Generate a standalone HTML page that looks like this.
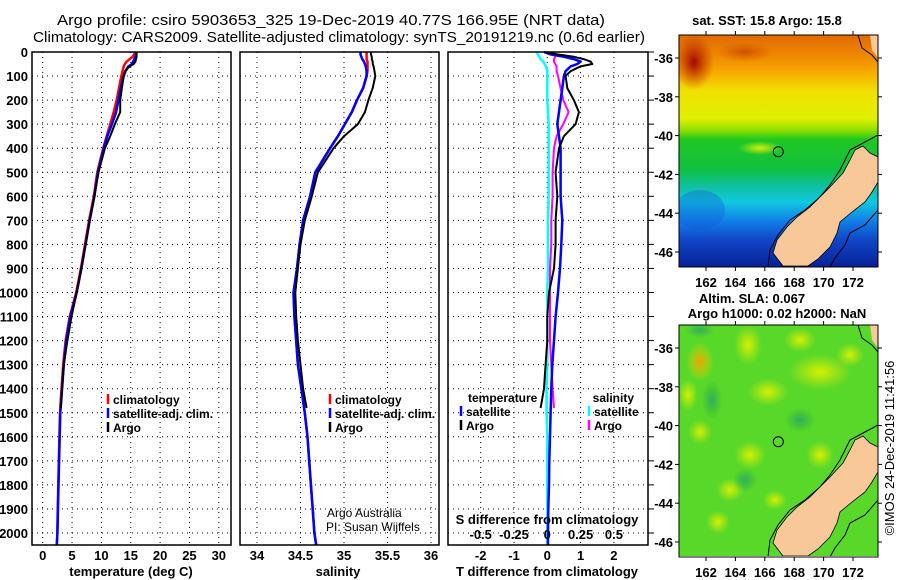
<!DOCTYPE html>
<html><head><meta charset="utf-8"><style>
html,body{margin:0;padding:0;background:#fff;width:900px;height:580px;overflow:hidden}
svg{display:block;font-family:"Liberation Sans",sans-serif}
.b{font-weight:bold}
</style></head><body>
<svg id="chart" width="900" height="580" viewBox="0 0 900 580" xmlns="http://www.w3.org/2000/svg">
<defs>
<linearGradient id="sstGrad" x1="0" y1="0" x2="0" y2="1">
<stop offset="0" stop-color="#e06a00"/><stop offset="0.1" stop-color="#f08c00"/>
<stop offset="0.17" stop-color="#f8b000"/><stop offset="0.24" stop-color="#f0e000"/>
<stop offset="0.36" stop-color="#e0f000"/><stop offset="0.41" stop-color="#90e000"/>
<stop offset="0.45" stop-color="#20c820"/><stop offset="0.58" stop-color="#10c040"/>
<stop offset="0.65" stop-color="#10c0a0"/><stop offset="0.72" stop-color="#10c8e0"/>
<stop offset="0.8" stop-color="#1080e8"/><stop offset="0.88" stop-color="#1048c8"/>
<stop offset="1" stop-color="#082098"/></linearGradient>
<radialGradient id="hot" cx="0.5" cy="0.5" r="0.5"><stop offset="0" stop-color="#a00800"/><stop offset="1" stop-color="#c02000" stop-opacity="0"/></radialGradient>
<radialGradient id="yel" cx="0.5" cy="0.5" r="0.5"><stop offset="0" stop-color="#d8f000"/><stop offset="1" stop-color="#c8ec10" stop-opacity="0"/></radialGradient>
<radialGradient id="org" cx="0.5" cy="0.5" r="0.5"><stop offset="0" stop-color="#f0a000"/><stop offset="1" stop-color="#e0e000" stop-opacity="0"/></radialGradient>
<radialGradient id="dg" cx="0.5" cy="0.5" r="0.5"><stop offset="0" stop-color="#30b060"/><stop offset="1" stop-color="#30b040" stop-opacity="0"/></radialGradient>
<clipPath id="m1clip"><rect x="679" y="35" width="199" height="232"/></clipPath>
<clipPath id="m2clip"><rect x="679" y="325" width="199" height="231"/></clipPath>
</defs>
<g id="root"></g>
</svg>
<script>
// depth levels (m)
const depths = [0,10,20,30,40,50,60,80,100,150,200,250,300,350,400,500,600,700,800,900,1000,1100,1200,1300,1400,1500,1600,1700,1800,1900,2000,2050];
const argoDepths = [0,10,20,30,40,50,60,80,100,150,200,250,300,350,400,500,600,700,800,900,1000,1100,1200,1300,1400,1480];
// temperature (deg C)
const tempClim = [15.7,15.6,15.3,14.8,14.3,14.0,13.8,13.6,13.4,13.0,12.6,12.1,11.5,10.9,10.3,9.3,8.7,7.9,7.2,6.5,5.7,4.6,3.9,3.5,3.2,2.95,2.85,2.75,2.65,2.55,2.5,2.4];
const tempSat = [15.9,15.9,15.8,15.6,15.4,15.2,14.6,14.1,13.8,13.3,12.9,12.5,11.8,11.0,10.4,9.4,8.8,8.0,7.3,6.6,5.8,4.7,4.0,3.6,3.3,3.0,2.9,2.8,2.7,2.6,2.5,2.4];
const tempArgo = [16.0,16.0,16.0,15.9,15.8,15.5,14.8,14.0,13.8,13.5,13.2,13.2,12.3,11.5,10.6,9.5,8.8,8.0,7.3,6.6,5.8,4.9,4.2,3.6,3.3,3.1];
// salinity
const salClim = [35.26,35.26,35.26,35.26,35.27,35.27,35.27,35.27,35.26,35.22,35.15,35.09,35.01,34.93,34.84,34.67,34.61,34.53,34.49,34.46,34.42,34.43,34.45,34.47,34.51,34.55,34.58,34.60,34.62,34.64,34.66,34.68];
const salSat = [35.19,35.19,35.2,35.21,35.23,35.24,35.25,35.26,35.26,35.22,35.15,35.09,35.01,34.93,34.84,34.67,34.61,34.53,34.49,34.46,34.42,34.43,34.45,34.47,34.51,34.55,34.58,34.60,34.62,34.64,34.66,34.68];
const salArgo = [35.31,35.31,35.32,35.32,35.33,35.33,35.34,35.35,35.36,35.33,35.28,35.24,35.16,35.0,34.88,34.70,34.63,34.55,34.50,34.47,34.44,34.45,34.47,34.50,34.53,34.57];
// differences from climatology
const tDiffSat = [-0.1,0.1,0.5,0.8,1.0,0.9,0.7,0.55,0.5,0.45,0.4,0.35,0.3,0.35,0.4,0.4,0.4,0.45,0.42,0.38,0.32,0.25,0.2,0.15,0.12,0.1,0.08,0.06,0.05,0.03,0.02,0.02];
const tDiffArgo = [-0.1,0.3,0.8,1.1,1.3,1.35,1.0,0.7,0.55,0.6,0.8,0.95,0.85,0.5,0.35,0.25,0.3,0.25,0.25,0.2,0.05,0.0,0.0,-0.05,-0.1,-0.2];
const sDiffSat = [-0.08,-0.07,-0.06,-0.05,-0.03,-0.02,-0.01,0,0,0,0,0.005,0.01,0.01,0.01,0.01,0.01,0.005,0.005,0.005,0,0,0,0,-0.005,-0.005,0,0,0,0,0,0];
const sDiffArgo = [0.05,0.06,0.06,0.05,0.05,0.06,0.07,0.07,0.08,0.1,0.12,0.16,0.12,0.07,0.05,0.04,0.04,0.03,0.03,0.02,0.02,0.02,0.02,0.03,0.04,0.05];
// tick labels
const depthTicks = [0,100,200,300,400,500,600,700,800,900,1000,1100,1200,1300,1400,1500,1600,1700,1800,1900,2000];
const tempTicks = [0,5,10,15,20,25,30];
const salTicks = [34,34.5,35,35.5,36];
const tDiffTicks = [-2,-1,0,1,2];
const sDiffTicks = [-0.5,-0.25,0,0.25,0.5];
const lonTicks = [162,164,166,168,170,172];
const latTicks = [-36,-38,-40,-42,-44,-46];

const NS='http://www.w3.org/2000/svg';
const root=document.getElementById('root');
function el(tag,attrs,parent){const e=document.createElementNS(NS,tag);for(const k in attrs)e.setAttribute(k,attrs[k]);(parent||root).appendChild(e);return e;}
function txt(s,attrs,parent){const e=el('text',attrs,parent);e.textContent=s;return e;}

const TOP=52, BOT=545;
const yD=d=>TOP+d*0.2405;
const xT=t=>42.7+t*5.87;
const xS=s=>257+(s-34)*87;
const xTd=t=>547.3+t*33.3;
const xSd=s=>547.3+s*133.2;

// titles
const t1=txt('Argo profile: csiro 5903653_325 19-Dec-2019 40.77S 166.95E (NRT data)',{x:57,y:25,'font-size':15,textLength:548,lengthAdjust:'spacingAndGlyphs'});

const t2=txt('Climatology: CARS2009. Satellite-adjusted climatology: synTS_20191219.nc (0.6d earlier)',{x:33,y:42,'font-size':15,textLength:612,lengthAdjust:'spacingAndGlyphs'});


function panel(name,x0,x1,vticks,xf){
  const g=el('g',{});
  
  
  vticks.forEach(v=>{const x=xf(v);if(x>x0+1&&x<x1-1)el('line',{x1:x,x2:x,y1:TOP,y2:BOT,stroke:'#000','stroke-width':1,'stroke-dasharray':'1 4'},g);});
  depthTicks.forEach(d=>{const y=yD(d);if(y>TOP+1)el('line',{x1:x0,x2:x1,y1:y,y2:y,stroke:'#000','stroke-width':1,'stroke-dasharray':'1 4'},g);});
  return g;
}
function line(g,xs,ds,xf,color,w,name){
  const p=xs.map((v,i)=>xf(v).toFixed(1)+','+yD(ds[i]).toFixed(1)).join(' ');
  const e=el('polyline',{points:p,fill:'none',stroke:color,'stroke-width':w,'stroke-linejoin':'round'},g);
  
  
}
function frame(g,x0,x1){el('rect',{x:x0,y:TOP,width:x1-x0,height:BOT-TOP,fill:'none',stroke:'#000','stroke-width':1.5},g);}

// depth axis labels
const ya=el('g',{});
depthTicks.forEach(d=>{txt(String(d),{x:28,y:yD(d)+5,'font-size':13,'text-anchor':'end',class:'b'},ya);});

// panel 1 temperature
const p1=panel('temperature-panel',32,231,tempTicks,xT);
line(p1,tempClim,depths,xT,'#ff0000',2.5,'temp-climatology-line');
line(p1,tempSat,depths,xT,'#0000ff',2.5,'temp-satellite-line');
line(p1,tempArgo,argoDepths,xT,'#000',2,'temp-argo-line');
frame(p1,32,231);
tempTicks.forEach(v=>txt(String(v),{x:xT(v),y:560,'font-size':13,'text-anchor':'middle',class:'b'},p1));
txt('temperature (deg C)',{x:131,y:576,'font-size':13,'text-anchor':'middle',class:'b'},p1);

// panel 2 salinity
const p2=panel('salinity-panel',240,439,salTicks,xS);
line(p2,salClim,depths,xS,'#ff0000',2.5,'sal-climatology-line');
line(p2,salSat,depths,xS,'#0000ff',2.5,'sal-satellite-line');
line(p2,salArgo,argoDepths,xS,'#000',2,'sal-argo-line');
frame(p2,240,439);
salTicks.forEach(v=>txt(String(v),{x:xS(v),y:560,'font-size':13,'text-anchor':'middle',class:'b'},p2));
txt('salinity',{x:338,y:576,'font-size':13,'text-anchor':'middle',class:'b'},p2);
txt('Argo Australia',{x:327,y:517,'font-size':12},p2);
txt('PI: Susan Wijffels',{x:326,y:531,'font-size':12},p2);

// legends
function legend(g,x,y,items){
  items.forEach((it,i)=>{
    const lg=el('g',{},g);
    
    
    el('line',{x1:x,x2:x,y1:y+i*14-10,y2:y+i*14,stroke:it[0],'stroke-width':2.5},lg);
    txt(it[1],{x:x+5,y:y+i*14,'font-size':12,class:'b'},lg);
  });
}
legend(p1,108,404,[['#ff0000','climatology'],['#0000ff','satellite-adj. clim.'],['#000','Argo']]);
legend(p2,330,404,[['#ff0000','climatology'],['#0000ff','satellite-adj. clim.'],['#000','Argo']]);

// panel 3 differences
const p3=panel('difference-panel',448,648,tDiffTicks,xTd);
line(p3,sDiffSat,depths,xSd,'#00ffff',2.5,'sal-diff-satellite-line');
line(p3,sDiffArgo,argoDepths,xSd,'#ff00ff',2,'sal-diff-argo-line');
line(p3,tDiffSat,depths,xTd,'#0000ff',2.5,'temp-diff-satellite-line');
line(p3,tDiffArgo,argoDepths,xTd,'#000',2,'temp-diff-argo-line');
frame(p3,448,648);
depthTicks.forEach(d=>{const y=yD(d);el('line',{x1:648,x2:654,y1:y,y2:y,stroke:'#000'},p3);});
tDiffTicks.forEach(v=>txt(String(v),{x:xTd(v),y:560,'font-size':13,'text-anchor':'middle',class:'b'},p3));
sDiffTicks.forEach(v=>txt(String(v),{x:xSd(v),y:539,'font-size':13,'text-anchor':'middle',class:'b'},p3));
txt('S difference from climatology',{x:547,y:524,'font-size':13,'text-anchor':'middle',class:'b'},p3);
txt('T difference from climatology',{x:547,y:576,'font-size':13,'text-anchor':'middle',class:'b'},p3);
txt('temperature',{x:468,y:402,'font-size':12,class:'b'},p3);
txt('salinity',{x:634,y:402,'font-size':12,class:'b','text-anchor':'end'},p3);
legend(p3,461,416,[['#0000ff','satellite'],['#000','Argo']]);
legend(p3,589,416,[['#00ffff','satellite'],['#ff00ff','Argo']]);

// maps
const lonX=l=>706+(l-162)*14.7;
const latY1=l=>58+(-36-l)*19.4;
const land=[[855,150],[863,146],[870,153],[878,157],[878,182],[872,192],[865,202],[852,212],[840,222],[837,233],[830,247],[818,259],[808,266],[783,266],[773,253],[777,240],[787,227],[797,217],[810,207],[820,197],[830,187],[843,173],[850,160]];
function drawMap(name,yoff,kind,clip){
  const g=el('g',{});
  
  
  const c=el('g',{'clip-path':'url(#'+clip+')'},g);
  if(kind==='sst'){
    el('rect',{x:679,y:35+yoff,width:199,height:232,fill:'url(#sstGrad)'},c);
    el('ellipse',{cx:694,cy:62,rx:20,ry:28,fill:'url(#hot)'},c);
    el('ellipse',{cx:745,cy:52,rx:28,ry:10,fill:'url(#hot)',opacity:0.4},c);
    el('ellipse',{cx:760,cy:148,rx:22,ry:7,fill:'url(#yel)'},c);
    el('ellipse',{cx:700,cy:210,rx:25,ry:20,fill:'#1058d8',opacity:0.35},c);
  } else {
    el('rect',{x:679,y:35+yoff,width:199,height:232,fill:'#58d828'},c);
    [[700,362,14,20,'org'],[688,395,10,16,'yel'],[748,345,14,20,'yel'],[768,392,20,14,'yel'],[820,372,32,18,'yel'],[700,432,12,12,'yel'],[750,455,16,14,'yel'],[820,455,14,14,'yel'],[730,490,14,12,'yel'],[775,500,12,10,'yel'],[718,522,12,12,'yel'],[800,340,16,12,'yel'],[850,355,14,12,'yel'],[700,330,14,8,'dg'],[712,400,10,20,'dg'],[745,480,12,12,'dg'],[800,420,15,12,'dg']].forEach(b=>el('ellipse',{cx:b[0],cy:b[1],rx:b[2],ry:b[3],fill:'url(#'+b[4]+')'},c));
  }
  el('polyline',{points:'878,210 865,225 850,233 845,245 835,258 830,267',fill:'none',stroke:'#000','stroke-width':1,transform:'translate(0,'+yoff+')'},c);
  el('polyline',{points:'878,135 865,142 850,150 845,160 840,170 830,185 820,197 805,210 790,220 778,235 770,250 768,267',fill:'none',stroke:'#000','stroke-width':1,transform:'translate(0,'+yoff+')'},c);
  el('polyline',{points:'858,35 862,48 872,55 878,62',fill:'none',stroke:'#000','stroke-width':1,transform:'translate(0,'+yoff+')'},c);
  el('polygon',{points:'870,35 878,35 878,58 872,50',fill:'#f9c898',transform:'translate(0,'+yoff+')'},c);
  el('polygon',{points:land.map(p=>p[0]+','+(p[1]+yoff)).join(' '),fill:'#f9c898',stroke:'#000','stroke-width':0.8},c);
  const pt=el('circle',{cx:778.3,cy:151.7+yoff,r:5,fill:'none',stroke:'#000','stroke-width':1},g);
  
  
  el('rect',{x:679,y:35+yoff,width:199,height:232,fill:'none',stroke:'#000','stroke-width':1},g);
  lonTicks.forEach(l=>{const x=lonX(l);el('line',{x1:x,x2:x,y1:267+yoff,y2:271+yoff,stroke:'#000'},g);el('line',{x1:x,x2:x,y1:35+yoff,y2:31+yoff,stroke:'#000'},g);txt(String(l),{x:x,y:287+yoff,'font-size':13,'text-anchor':'middle',class:'b'},g);});
  latTicks.forEach(l=>{const y=latY1(l)+yoff;el('line',{x1:675,x2:679,y1:y,y2:y,stroke:'#000'},g);el('line',{x1:878,x2:882,y1:y,y2:y,stroke:'#000'},g);txt(String(l),{x:673,y:y+5,'font-size':13,'text-anchor':'end',class:'b'},g);});
  return g;
}
const m1=drawMap('sst-map',0,'sst','m1clip');
txt('sat. SST: 15.8 Argo: 15.8',{x:767,y:25,'font-size':13,'text-anchor':'middle',class:'b'},m1);
const m2=drawMap('sla-map',290,'sla','m2clip');
txt('Altim. SLA: 0.067',{x:752,y:303,'font-size':13,'text-anchor':'middle',class:'b'},m2);
txt('Argo h1000: 0.02 h2000: NaN',{x:777,y:318,'font-size':13,'text-anchor':'middle',class:'b'},m2);
const cr=txt('©IMOS 24-Dec-2019 11:41:56',{x:0,y:0,'font-size':13,'text-anchor':'middle',transform:'translate(894,448) rotate(-90)'});


</script>
</body></html>
